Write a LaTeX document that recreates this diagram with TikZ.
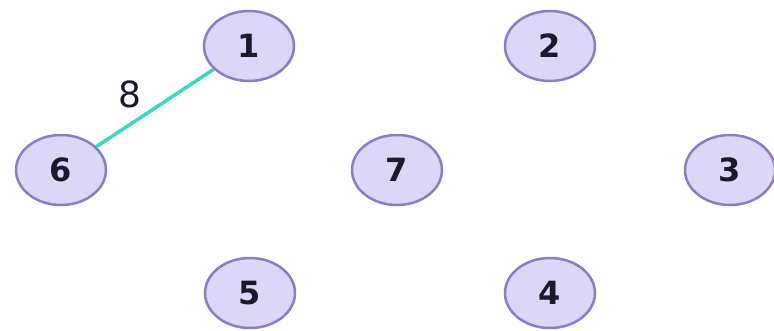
\documentclass[tikz,border=0pt]{standalone}
\usepackage{fontspec}
\setmainfont{DejaVu Sans}

\definecolor{vfill}{HTML}{DCD6F7}
\definecolor{vline}{HTML}{8E7CC3}
\definecolor{eline}{HTML}{3FD6C0}
\definecolor{vtext}{HTML}{1A1A2A}

\tikzset{
  vertex/.style={ellipse,draw=vline,fill=vfill,line width=2.5pt,
    minimum width=90pt,minimum height=70pt,inner sep=0pt,
    text=vtext,font=\fontsize{32}{36}\selectfont\bfseries},
  wedge/.style={draw=eline,line width=3.5pt}
}
\usetikzlibrary{shapes.geometric}

\begin{document}
\begin{tikzpicture}[x=1pt,y=-1pt]

\useasboundingbox (0,0) rectangle (774,330);

\node[vertex] (n1) at (249,46) {1};
\node[vertex] (n2) at (550,46) {2};
\node[vertex] (n6) at (61,170) {6};
\node[vertex] (n7) at (397,170) {7};
\node[vertex] (n3) at (730,170) {3};
\node[vertex] (n5) at (250,293) {5};
\node[vertex] (n4) at (550,293) {4};

\draw[wedge] (n6) -- (n1);

\node[text=vtext,font=\fontsize{36}{40}\selectfont] (w61) at (130,94) {8};

\end{tikzpicture}
\end{document}
